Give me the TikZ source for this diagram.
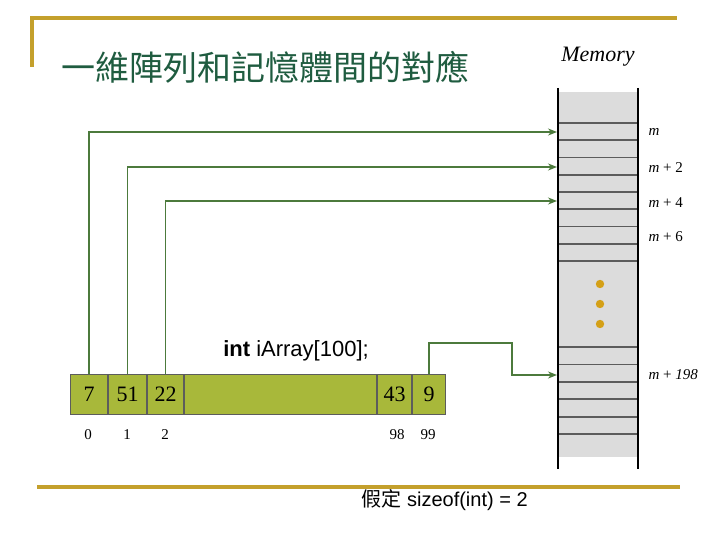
\documentclass[tikz,border=0pt]{standalone}
\usepackage{fontspec}
\setmainfont{Liberation Serif}
\setsansfont{Liberation Sans}
\newfontfamily\cjk{Noto Sans CJK TC}
\usetikzlibrary{positioning,arrows.meta}
\definecolor{rulegold}{HTML}{C4A02C}
\definecolor{titlegreen}{HTML}{1F5C40}
\definecolor{linkgreen}{HTML}{4C7A3C}
\definecolor{cellolive}{HTML}{A8B83A}
\definecolor{memgray}{HTML}{DCDCDC}
\definecolor{slotgray}{HTML}{5C5C5C}
\definecolor{dotgold}{HTML}{D4A017}

\begin{document}
\begin{tikzpicture}[
    x=1pt, y=-1pt,
    cell/.style={
        rectangle,
        draw=slotgray,
        line width=1pt,
        fill=cellolive,
        minimum height=40pt,
        inner sep=0pt,
        font=\fontsize{22}{24}\selectfont
    },
    index/.style={font=\fontsize{15}{17}\selectfont},
    addr/.style={anchor=west, font=\fontsize{15}{17}\selectfont},
    link/.style={->, draw=linkgreen, line width=1.5pt},
    slot/.style={draw=slotgray, line width=1.8pt},
    >={Stealth[length=9pt,width=7pt]}
]
\useasboundingbox (0,0) rectangle (720,540);

\draw[rulegold, line width=4pt] (30,18) -- (677,18);
\draw[rulegold, line width=4pt] (32,18) -- (32,67);
\draw[rulegold, line width=4pt] (37,487) -- (680,487);

\node[anchor=west, text=titlegreen, inner sep=0pt] (title) at (61,67)
    {\cjk\fontsize{34}{36}\selectfont 一維陣列和記憶體間的對應};
\node (memlabel) at (598,57) {\fontsize{22}{24}\selectfont\itshape Memory};

\fill[memgray] (558,92) rectangle (638,457);
\foreach \i in {0,...,8}
    \draw[slot] (558,123+17.25*\i) -- (638,123+17.25*\i);
\foreach \i in {0,...,5}
    \draw[slot] (558,347+17.4*\i) -- (638,347+17.4*\i);
\draw[line width=2.5pt] (558,88) -- (558,469);
\draw[line width=2.5pt] (638,88) -- (638,469);
\foreach \y in {284,304,324}
    \fill[dotgold] (600,\y) circle (4.2pt);

\coordinate (m0) at (557,132);
\coordinate (m2) at (557,167);
\coordinate (m4) at (557,201);
\coordinate (m198) at (557,375);
\coordinate (bend) at (512,343);

\node[addr] (a0) at (645,132) {\textit{m}};
\node[addr] (a2) at (645,168) {\textit{m} + 2};
\node[addr] (a4) at (645,203) {\textit{m} + 4};
\node[addr] (a6) at (645,237) {\textit{m} + 6};
\node[addr] (a198) at (645,375) {\textit{m} + \textit{198}};

\node[cell, minimum width=37pt] (c0) at (89,394) {7};
\node[cell, minimum width=38pt, right=0pt of c0] (c1) {51};
\node[cell, minimum width=36pt, right=0pt of c1] (c2) {22};
\node[cell, minimum width=192pt, right=0pt of c2] (cmid) {};
\node[cell, minimum width=34pt, right=0pt of cmid] (c98) {43};
\node[cell, minimum width=33pt, right=0pt of c98] (c99) {9};

\node[index] (i0) at (88,435) {0};
\node[index] (i1) at (127,435) {1};
\node[index] (i2) at (165,435) {2};
\node[index] (i98) at (397,435) {98};
\node[index] (i99) at (428,435) {99};

\node[font=\sffamily\fontsize{22}{24}\selectfont] (decl) at (296,351)
    {\textbf{int} iArray[100];};
\node[font=\sffamily\fontsize{20}{22}\selectfont, anchor=west] (note) at (358,500)
    {{\cjk 假定} sizeof(int) = 2};

\draw[link] (c0.north) |- (m0);
\draw[link] (c1.north) |- (m2);
\draw[link] (c2.north) |- (m4);
\draw[link] (c99.north) |- (bend) |- (m198);
\end{tikzpicture}
\end{document}
